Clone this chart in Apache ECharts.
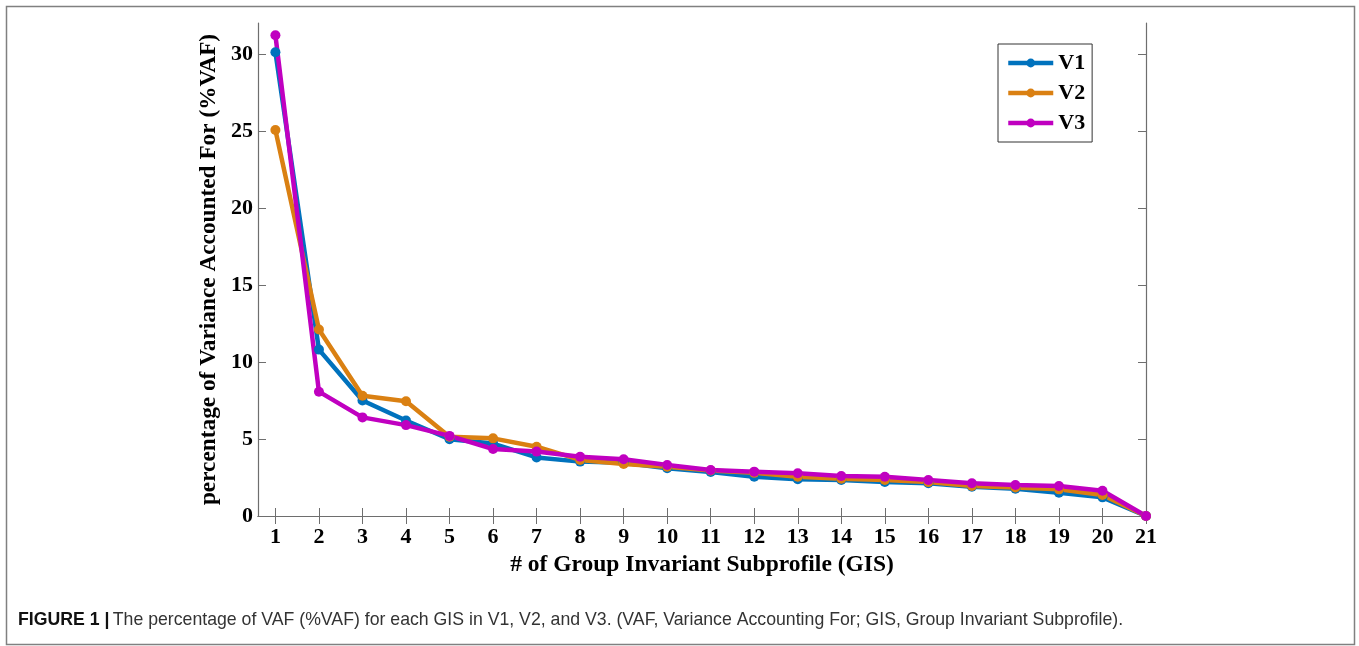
<!DOCTYPE html>
<html><head><meta charset="utf-8">
<script src="https://cdn.jsdelivr.net/npm/echarts@6/dist/echarts.min.js"></script>
<style>html,body{margin:0;padding:0;background:#fff}#c{width:1359px;height:646px}</style>
</head><body><div id="c"></div>
<script>
var gis = [1,2,3,4,5,6,7,8,9,10,11,12,13,14,15,16,17,18,19,20,21];
var v1 = [30.1,10.8,7.5,6.2,4.98,4.7,3.8,3.53,3.45,3.1,2.86,2.55,2.38,2.34,2.21,2.12,1.9,1.77,1.51,1.21,0];
var v2 = [25.06,12.1,7.8,7.45,5.15,5.04,4.5,3.64,3.38,3.2,2.95,2.8,2.55,2.42,2.34,2.2,1.95,1.85,1.73,1.36,0];
var v3 = [31.2,8.07,6.4,5.9,5.2,4.35,4.18,3.85,3.68,3.31,2.99,2.88,2.77,2.6,2.55,2.34,2.12,2.01,1.95,1.64,0];
var yTicks = [0,5,10,15,20,25,30];
var caption = 'The percentage of VAF (%VAF) for each GIS in V1, V2, and V3. (VAF, Variance Accounting For; GIS, Group Invariant Subprofile).';

function pairs(v){ return gis.map(function(x,i){ return [x, v[i]]; }); }
var serif = '"Liberation Serif", "Times New Roman", serif';
var axisCol = '#6e6e6e';
function mkSeries(name, data, color){
  return {name:name, type:'line', data:pairs(data), xAxisIndex:0, yAxisIndex:0,
    symbol:'circle', symbolSize:10, showSymbol:true,
    lineStyle:{width:4.5, color:color}, itemStyle:{color:color}, emphasis:{disabled:true}};
}
var chart = echarts.init(document.getElementById('c'), null, {renderer:'canvas'});
chart.setOption({
  animation:false,
  backgroundColor:'#fff',
  grid:{left:258, top:23, right:213, bottom:130},
  legend:{
    data:['V1','V2','V3'], orient:'vertical', left:998, top:44,
    itemWidth:45, itemHeight:11, itemGap:8,
    padding:[8,7,8,8],
    lineStyle:{width:4.5},
    borderColor:'#333', borderWidth:1, backgroundColor:'#fff',
    textStyle:{fontFamily:serif, fontWeight:'bold', fontSize:22, color:'#000', padding:[0,0,0,0]}
  },
  xAxis:[{
    type:'value', min:0.6, max:21,
    axisLine:{show:true, lineStyle:{color:axisCol, width:1.2}},
    axisTick:{show:true, inside:true, length:8, customValues:gis, lineStyle:{color:axisCol}},
    axisLabel:{customValues:gis, fontFamily:serif, fontWeight:'bold', fontSize:22, color:'#000', margin:10},
    splitLine:{show:false},
    name:'# of Group Invariant Subprofile (GIS)', nameLocation:'middle', nameGap:35,
    nameTextStyle:{fontFamily:serif, fontWeight:'bold', fontSize:23.5, color:'#000'}
  },{
    type:'value', min:0.6, max:21, position:'top',
    axisLine:{show:true, lineStyle:{color:axisCol, width:1.2}},
    axisTick:{show:true, inside:true, length:8, customValues:gis, lineStyle:{color:axisCol}},
    axisLabel:{show:false}, splitLine:{show:false}
  }],
  yAxis:[{
    type:'value', min:0, max:32, interval:5,
    axisLine:{show:true, lineStyle:{color:axisCol, width:1.2}},
    axisTick:{show:true, inside:true, length:8, customValues:yTicks, lineStyle:{color:axisCol}},
    axisLabel:{customValues:yTicks, fontFamily:serif, fontWeight:'bold', fontSize:22, color:'#000', margin:5},
    splitLine:{show:false},
    name:'percentage of Variance Accounted For (%VAF)', nameLocation:'middle', nameGap:31,
    nameTextStyle:{fontFamily:serif, fontWeight:'bold', fontSize:23.3, color:'#000', padding:[0,0,0,0]}
  },{
    type:'value', min:0, max:32, interval:5, position:'right',
    axisLine:{show:true, lineStyle:{color:axisCol, width:1.2}},
    axisTick:{show:true, inside:true, length:8, customValues:yTicks, lineStyle:{color:axisCol}},
    axisLabel:{show:false}, splitLine:{show:false}
  }],
  series:[mkSeries('V1', v1, '#0072BD'), mkSeries('V2', v2, '#DA8012'), mkSeries('V3', v3, '#C000C0')],
  graphic:[
    {type:'rect', left:4, top:4, shape:{x:0,y:0,width:1348,height:638}, style:{fill:null, stroke:'#808080', lineWidth:1.5}, silent:true},
    {type:'text', left:18, top:611, style:{
      text:'{b|FIGURE 1 |} {n|'+caption+'}',
      rich:{b:{fontFamily:'"Liberation Sans", Arial, sans-serif', fontWeight:'bold', fontSize:17.7, fill:'#111'},
            n:{fontFamily:'"Liberation Sans", Arial, sans-serif', fontSize:17.7, fill:'#333'}}
    }}
  ]
});
</script></body></html>
